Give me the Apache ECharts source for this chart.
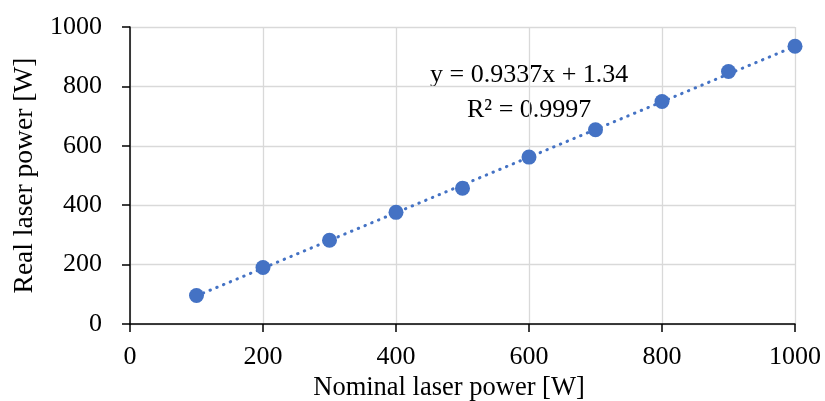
<!DOCTYPE html>
<html>
<head>
<meta charset="utf-8">
<script src="https://cdn.jsdelivr.net/npm/echarts@6/dist/echarts.min.js"></script>
<style>
  html, body { margin: 0; padding: 0; background: #fff; }
  #chart { width: 825px; height: 401px; }
</style>
</head>
<body>
<div id="chart"></div>
<script>
// nominal power setpoints [W]
var nominal = [100, 200, 300, 400, 500, 600, 700, 800, 900, 1000];
// measured power [W]
var measured = [96, 190, 282, 376, 457, 562, 654, 749, 850, 935];
// linear trend (Excel) endpoints, from y = 0.9337x + 1.34
var trendX = [100, 1000];
var trendY = [94.71, 935.04];
var eqLines = ['y = 0.9337x + 1.34', 'R² = 0.9997'];

var font = 'Liberation Serif';
var fs = 26;
var blue = '#4472C4';

var points = nominal.map(function (x, i) { return [x, measured[i]]; });
var trend = trendX.map(function (x, i) { return [x, trendY[i]]; });
var plain = function (v) { return String(v); };

var chart = echarts.init(document.getElementById('chart'));
chart.setOption({
  animation: false,
  grid: { left: 130, right: 30, top: 27, bottom: 77, outerBoundsMode: 'none', containLabel: false },
  xAxis: {
    type: 'value',
    min: 0, max: 1000, interval: 200,
    name: 'Nominal laser power [W]',
    nameLocation: 'middle',
    nameGap: 51,
    nameTextStyle: { fontFamily: font, fontSize: 26.5, color: '#000', padding: [0, 27, 0, 0] },
    axisLine: { onZero: false, lineStyle: { color: '#000', width: 1.5 } },
    axisTick: { show: true, length: 8, lineStyle: { color: '#000', width: 1.5 } },
    axisLabel: { fontFamily: font, fontSize: fs, color: '#000', margin: 20, formatter: plain },
    splitLine: { lineStyle: { color: '#d9d9d9', width: 1.3 } }
  },
  yAxis: {
    type: 'value',
    min: 0, max: 1000, interval: 200,
    name: 'Real laser power [W]',
    nameLocation: 'middle',
    nameGap: 90,
    nameTextStyle: { fontFamily: font, fontSize: 27.5, color: '#000' },
    axisLine: { show: true, lineStyle: { color: '#000', width: 1.5 } },
    axisTick: { show: true, length: 8, lineStyle: { color: '#000', width: 1.5 } },
    axisLabel: { fontFamily: font, fontSize: fs, color: '#000', margin: 28, formatter: plain },
    splitLine: { lineStyle: { color: '#d9d9d9', width: 1.3 } }
  },
  graphic: [
    {
      type: 'text', left: 430, top: 62,
      style: { text: eqLines[0], fontFamily: font, fontSize: fs, fill: '#000' }
    },
    {
      type: 'text', left: 467, top: 97,
      style: { text: eqLines[1], fontFamily: font, fontSize: fs, fill: '#000' }
    }
  ],
  series: [
    {
      type: 'line',
      data: trend,
      symbol: 'none',
      silent: true,
      lineStyle: { color: blue, width: 3, type: [0.5, 6.8], cap: 'round' },
      z: 1
    },
    {
      type: 'scatter',
      data: points,
      symbolSize: 15,
      itemStyle: { color: blue, opacity: 1 },
      z: 2
    }
  ]
});
</script>
</body>
</html>
